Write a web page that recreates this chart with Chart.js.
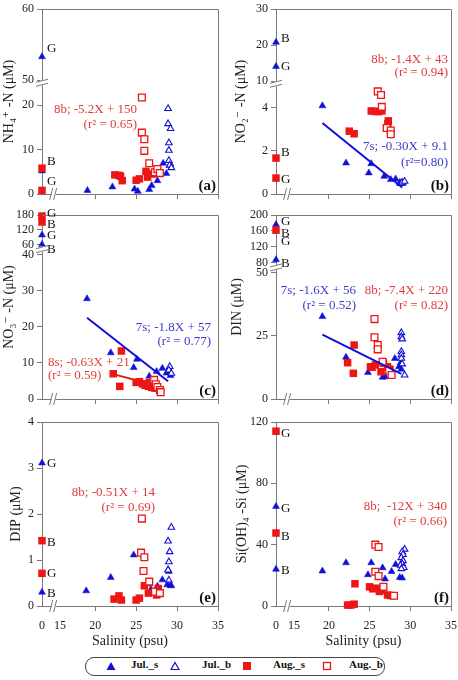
<!DOCTYPE html>
<html>
<head>
<meta charset="utf-8">
<script src="https://cdn.jsdelivr.net/npm/chart.js@4.4.1/dist/chart.umd.min.js"></script>
<style>
  body { margin: 0; width: 458px; height: 680px; position: relative; overflow: hidden; background: #fff; }
  #legend { position: absolute; left: 85px; top: 657px; width: 300px; height: 19px; border: 1px solid #444; border-radius: 9px; box-sizing: border-box; }
  .lg { position: absolute; top: 0; height: 17px; line-height: 17px; font: bold 11px 'Liberation Serif', serif; color: #111; }
  .mk { position: absolute; top: 3px; }
  .xt { position: absolute; font: 12px 'Liberation Serif', serif; color: #222; line-height: 14px; transform: translateX(-50%); z-index: 3; }
</style>
</head>
<body>
<div id="legend">
  <svg class="mk" style="left:20px" width="10" height="10"><polygon points="5,1 9.5,9 0.5,9" fill="#1010d8"/></svg>
  <span class="lg" style="left:45px">Jul._s</span>
  <svg class="mk" style="left:84px" width="10" height="10"><polygon points="5,1.5 9,8.5 1,8.5" fill="#fff" stroke="#1010d8" stroke-width="1.2"/></svg>
  <span class="lg" style="left:116px">Jul._b</span>
  <svg class="mk" style="left:156px" width="10" height="10"><rect x="1" y="1" width="8" height="8" fill="#ee1515"/></svg>
  <span class="lg" style="left:187px">Aug._s</span>
  <svg class="mk" style="left:236px" width="10" height="10"><rect x="1.5" y="1.5" width="7" height="7" fill="#fff" stroke="#ee1515" stroke-width="1.3"/></svg>
  <span class="lg" style="left:263px">Aug._b</span>
</div>
<script>
// salinity (psu), concentration (uM); salinity 0 = freshwater end members
// (a) NH4
const nh4JulS = [[0,53.3],[0,5.2],[19.05,0.8],[22.1,1.6],[24.8,1.1],[25.2,0.6],[26.6,1.0],[26.9,1.9],[27.6,3.0],[28.3,6.9],[28.7,4.6],[29.1,6.4],[29.2,6.7]];
const nh4JulB = [[28.9,19.2],[28.9,15.8],[29.2,14.7],[29.0,11.5],[29.0,9.8],[29.0,7.5],[29.1,6.5],[29.3,5.9]];
const nh4AugS = [[0,5.8],[0,0.8],[22.4,4.3],[22.9,4.2],[23.1,4.0],[23.3,3.0],[25.0,3.1],[25.4,3.4],[26.2,5.1],[26.4,3.8],[27.0,4.5],[27.4,4.9]];
const nh4AugB = [[25.7,21.7],[25.7,13.8],[26.0,12.3],[26.0,9.7],[26.6,6.9],[27.3,4.9],[27.6,5.6],[27.9,4.7]];
// (b) NO2
const no2JulS = [[0,20.8],[0,14.1],[19.2,4.1],[22.1,1.44],[24.9,0.98],[25.2,1.41],[26.8,0.82],[27.6,0.67],[28.2,0.70],[28.7,0.54],[28.9,0.5],[29.1,0.5]];
const no2JulB = [[28.8,0.48],[29.0,0.54],[29.3,0.59]];
const no2AugS = [[0,1.67],[0,0.74],[22.5,2.92],[23.1,2.8],[25.2,3.86],[25.6,3.84],[26.1,3.83],[26.5,3.86],[27.3,3.4],[27.25,3.27],[27.1,3.08]];
const no2AugB = [[26.0,4.77],[26.4,4.6],[26.5,4.05],[27.1,3.07],[27.6,2.95],[27.6,2.78]];
const no2Fit7s = [[19.2,3.3],[29.0,0.3]];
// (c) NO3
const no3JulS = [[0,100],[0,62],[19.0,27.8],[21.9,12.8],[24.7,8.7],[25.1,11.0],[26.6,6.3],[27.5,7.6],[28.2,8.5],[28.7,7.2],[28.9,7.6],[29.2,6.5]];
const no3JulB = [[29.1,9.0],[29.0,8.0],[29.3,7.1]];
const no3AugS = [[0,176],[0,152],[22.2,7.0],[23.0,3.5],[23.2,13.3],[25.0,4.6],[25.4,4.8],[25.8,4.2],[26.1,3.8],[26.5,3.5],[26.6,4.5],[26.9,3.2],[27.3,3.0]];
const no3AugB = [[27.2,5.3],[27.4,4.1],[27.6,3.3],[27.9,2.5],[28.0,1.9]];
const no3Fit7s = [[19.0,22.5],[28.9,4.9]];
const no3Fit8s = [[22.2,6.9],[27.0,4.0]];
// (d) DIN
const dinJulS = [[0,176],[0,88],[19.2,32.7],[22.1,16.6],[24.8,10.5],[26.6,8.6],[26.9,8.8],[28.1,16.1],[28.6,12.8],[28.8,14.3],[28.9,11.8]];
const dinJulB = [[28.9,26.3],[28.9,24.7],[29.0,23.8],[28.9,18.8],[28.9,17.5],[28.9,16.1],[29.0,13.9],[29.3,9.5]];
const dinAugS = [[0,162],[22.3,14.4],[23.1,21.4],[23.0,10.2],[25.1,12.8],[25.3,12.6],[25.7,13.5],[26.4,10.8],[26.7,14.2],[27.2,12.8],[27.5,11.8]];
const dinAugB = [[25.6,31.7],[25.6,24.5],[26.0,21.4],[26.0,19.7],[26.6,14.8],[27.4,11.2],[27.7,9.5]];
const dinFit7s = [[19.2,25.5],[28.9,10.0]];
// (e) DIP
const dipJulS = [[0,3.11],[0,0.30],[18.9,0.33],[21.9,0.62],[24.7,1.11],[26.8,0.36],[27.6,0.43],[28.2,0.57],[28.8,0.46],[28.9,0.79],[29.0,0.75],[29.2,0.45],[29.3,0.44]];
const dipJulB = [[29.3,1.71],[28.9,1.41],[29.1,1.18],[29.0,0.96],[28.9,0.78],[29.0,0.56]];
const dipAugS = [[0,1.42],[0,0.71],[22.3,0.15],[22.9,0.22],[23.2,0.13],[25.0,0.13],[25.4,0.17],[26.0,0.44],[26.5,0.28],[26.6,0.51],[27.3,0.31],[27.5,0.24],[27.7,0.38]];
const dipAugB = [[25.7,1.90],[25.6,1.16],[26.0,1.06],[25.9,0.76],[26.6,0.53],[27.3,0.31],[27.9,0.28]];
// (f) Si(OH)4
const siJulS = [[0,64.9],[0,24.0],[19.2,22.8],[22.1,28.2],[24.8,20.4],[25.2,28.2],[26.6,24.9],[26.9,17.6],[27.7,22.5],[28.2,27.1],[28.7,18.6],[29.0,18.3]];
const siJulB = [[29.3,37.0],[29.0,35.3],[29.1,33.5],[28.9,31.5],[29.1,29.5],[29.0,27.5],[28.8,26.5],[29.2,25.0],[28.9,24.3]];
const siAugS = [[0,114],[0,47.6],[22.3,0.6],[22.7,0.6],[23.1,1.2],[23.2,14.5],[25.0,12.5],[25.4,11.2],[25.8,11.6],[26.2,9.5],[26.5,10.3],[27.2,7.2],[27.6,6.8]];
const siAugB = [[25.7,40.0],[26.1,38.5],[25.7,22.3],[26.1,19.5],[26.7,12.5],[28.0,6.7]];

// station labels next to the freshwater points
const nh4Sites = [['G',54.5],['B',7.3],['G',2.8]];
const no2Sites = [['B',21.7],['G',14.1],['B',1.93],['G',0.66]];
const no3Sites = [['G',187],['B',140],['G',99],['B',50]];
const dinSites = [['G',184],['B',153],['G',133],['B',78]];
const dipSites = [['G',3.09],['B',1.38],['G',0.70],['B',0.26]];
const siSites = [['G',112.4],['G',63.7],['B',45.4],['B',23.3]];

// y tick labels (broken axes)
const nh4Ticks = [0,10,20,50,60];
const no2Ticks = [0,2,4,10,20,30];
const no3Ticks = [0,10,20,30,40,60,120,180];
const dinTicks = [0,25,50,80,120,160,200];
const dipTicks = [0,1,2,3,4];
const siTicks = [0,40,80,120];
const salTicks = [0,15,20,25,30,35];

const FONT = "'Liberation Serif', 'DejaVu Serif', serif";
const BLUE = '#1010d8', RED = '#ee1515';
const TXT_BLUE = '#3c3cc8', TXT_RED = '#e03c3c';
const AXIS = '#7a7a7a';
const X_LEFT = 13.5;   // where salinity 0 sits on the broken x axis
const TICK_LEN = 5;

function knotsFn(real, disp) {
    return v => {
        for (let i = 1; i < real.length; i++) {
            if (v <= real[i] || i === real.length - 1) {
                const t = (v - real[i - 1]) / (real[i] - real[i - 1]);
                return disp[i - 1] + t * (disp[i] - disp[i - 1]);
            }
        }
    };
}

// broken salinity axis: 0 | 15 ... 35
const xd = knotsFn([0, 15, 18, 35], [X_LEFT, 15.7, 18, 35]);

const panels = [
    { tag:'(a)', box:[0,0,228,205], plot:[42,9,218,194], title:'NH₄⁺ -N (μM)', tpad:1,
      knots:[[0,23,50,60],[0,23,25.6,41.6]], yTicks:nh4Ticks, yBreak:24.9, showX:false,
      series:[nh4JulS,nh4JulB,nh4AugS,nh4AugB], fits:[], sites:nh4Sites,
      notes:[['8b; -5.2X + 150',TXT_RED,0.54,0.546,'right'],['(r² = 0.65)',TXT_RED,0.54,0.627,'right']] },
    { tag:'(b)', box:[228,0,230,205], plot:[276,9,451,194], title:'NO₂⁻ -N (μM)', tpad:5,
      knots:[[0,5,10,30],[0,5,5.24,8.6]], yTicks:no2Ticks, yBreak:5.1, showX:false,
      series:[no2JulS,no2JulB,no2AugS,no2AugB], fits:[[no2Fit7s,BLUE]], sites:no2Sites,
      notes:[['8b; -1.4X + 43',TXT_RED,0.983,0.276,'right'],['(r² = 0.94)',TXT_RED,0.983,0.346,'right'],
             ['7s; -0.30X + 9.1',TXT_BLUE,0.983,0.746,'right'],['(r²=0.80)',TXT_BLUE,0.983,0.832,'right']] },
    { tag:'(c)', box:[0,205,228,205], plot:[42,215,218,399], title:'NO₃⁻ -N (μM)', tpad:1,
      knots:[[0,40,60,180],[0,40,42.7,51]], yTicks:no3Ticks, yBreak:41.4, showX:false,
      series:[no3JulS,no3JulB,no3AugS,no3AugB], fits:[[no3Fit7s,BLUE],[no3Fit8s,RED]], sites:no3Sites,
      notes:[['7s; -1.8X + 57',TXT_BLUE,0.96,0.614,'right'],['(r² = 0.77)',TXT_BLUE,0.96,0.69,'right'],
             ['8s; -0.63X + 21',TXT_RED,0.034,0.804,'left'],['(r² = 0.59)',TXT_RED,0.034,0.875,'left']] },
    { tag:'(d)', box:[228,205,230,205], plot:[276,215,451,399], title:'DIN (μM)', tpad:1,
      knots:[[0,50,80,200],[0,50,54,73]], yTicks:dinTicks, yBreak:52, showX:false,
      series:[dinJulS,dinJulB,dinAugS,dinAugB], fits:[[dinFit7s,BLUE]], sites:dinSites,
      notes:[['7s; -1.6X + 56',TXT_BLUE,0.457,0.413,'right'],['(r² = 0.52)',TXT_BLUE,0.457,0.49,'right'],
             ['8b; -7.4X + 220',TXT_RED,0.983,0.413,'right'],['(r² = 0.82)',TXT_RED,0.983,0.49,'right']] },
    { tag:'(e)', box:[0,410,228,240], plot:[42,422,218,606], title:'DIP (μM)', tpad:8,
      knots:[[0,4],[0,4]], yTicks:dipTicks, yBreak:null, showX:true,
      series:[dipJulS,dipJulB,dipAugS,dipAugB], fits:[], sites:dipSites,
      notes:[['8b; -0.51X + 14',TXT_RED,0.642,0.384,'right'],['(r² = 0.69)',TXT_RED,0.642,0.467,'right']] },
    { tag:'(f)', box:[228,410,230,240], plot:[276,422,451,606], title:'Si(OH)₄ -Si (μM)', tpad:6,
      knots:[[0,120],[0,120]], yTicks:siTicks, yBreak:null, showX:true,
      series:[siJulS,siJulB,siAugS,siAugB], fits:[], sites:siSites,
      notes:[['8b;  -12X + 340',TXT_RED,0.977,0.46,'right'],['(r² = 0.66)',TXT_RED,0.977,0.54,'right']] }
];

function makePanel(p) {
    const [bx, by, bw, bh] = p.box;
    const [l, t, r, b] = p.plot;
    const cv = document.createElement('canvas');
    cv.width = bw; cv.height = bh;
    cv.style.cssText = `position:absolute;left:${bx}px;top:${by}px;width:${bw}px;height:${bh}px`;
    document.body.appendChild(cv);

    const yd = knotsFn(p.knots[0], p.knots[1]);
    const conv = arr => arr.map(([s, v]) => ({ x: xd(s), y: yd(v) }));
    const yMax = yd(p.yTicks[p.yTicks.length - 1]);

    const [julS, julB, augS, augB] = p.series;
    const datasets = [];
    p.fits.forEach(([pts, col]) => datasets.push({
        data: conv(pts), showLine: true, borderColor: col, borderWidth: 2, pointRadius: 0, clip: false
    }));
    datasets.push(
        { data: conv(augB), pointStyle: 'rect', pointRadius: 4.8, backgroundColor: '#fff', borderColor: RED, borderWidth: 1.3, clip: false },
        { data: conv(augS), pointStyle: 'rect', pointRadius: 5.3, backgroundColor: RED, borderColor: RED, borderWidth: 0, clip: false },
        { data: conv(julB), pointStyle: 'triangle', pointRadius: 3.8, backgroundColor: '#fff', borderColor: BLUE, borderWidth: 1.1, clip: false },
        { data: conv(julS), pointStyle: 'triangle', pointRadius: 4, backgroundColor: BLUE, borderColor: BLUE, borderWidth: 0.5, clip: false }
    );

    // frame, y tick labels, axis breaks, site letters, fit equations, panel tag
    const decor = {
        id: 'decor',
        afterDraw(chart) {
            const ctx = chart.ctx;
            const a = chart.chartArea;
            const ys = chart.scales.y, xs = chart.scales.x;
            ctx.save();
            ctx.strokeStyle = AXIS;
            ctx.lineWidth = 1;
            ctx.beginPath();
            ctx.moveTo(a.left, a.top + 0.5);
            ctx.lineTo(a.right + 0.5, a.top + 0.5);
            ctx.lineTo(a.right + 0.5, a.bottom);
            ctx.stroke();

            ctx.font = `12px ${FONT}`;
            ctx.fillStyle = '#222';
            ctx.textAlign = 'right';
            ctx.textBaseline = 'middle';
            ys.ticks.forEach((tk, i) => ctx.fillText(String(p.yTicks[i]), a.left - TICK_LEN - 3, ys.getPixelForTick(i)));

            if (p.yBreak !== null) {
                const y = ys.getPixelForValue(p.yBreak), x = a.left;
                ctx.fillStyle = '#fff';
                ctx.fillRect(x - 2, y - 3, 4, 5);
                ctx.beginPath();
                ctx.moveTo(x - 6, y - 1); ctx.lineTo(x + 6, y - 4);
                ctx.moveTo(x - 6, y + 3); ctx.lineTo(x + 6, y);
                ctx.stroke();
            }
            const xb = xs.getPixelForValue(14.8), yb = a.bottom;
            ctx.fillStyle = '#fff';
            ctx.fillRect(xb - 1, yb - 2, 4, 4);
            ctx.beginPath();
            ctx.moveTo(xb - 3, yb + 6); ctx.lineTo(xb, yb - 6);
            ctx.moveTo(xb + 1, yb + 6); ctx.lineTo(xb + 4, yb - 6);
            ctx.stroke();

            ctx.font = `13px ${FONT}`;
            ctx.fillStyle = '#111';
            ctx.textAlign = 'left';
            ctx.textBaseline = 'middle';
            p.sites.forEach(([txt, v]) => ctx.fillText(txt, a.left + 5, ys.getPixelForValue(yd(v))));

            const w = a.right - a.left, h = a.bottom - a.top;
            p.notes.forEach(([txt, col, fx, fy, al]) => {
                ctx.fillStyle = col;
                ctx.textAlign = al;
                ctx.fillText(txt, a.left + fx * w, a.top + fy * h);
            });

            ctx.font = `bold 15px ${FONT}`;
            ctx.fillStyle = '#111';
            ctx.textAlign = 'right';
            ctx.textBaseline = 'alphabetic';
            ctx.fillText(p.tag, a.right - 2, a.bottom - 4);
            ctx.restore();
        }
    };

    const chart = new Chart(cv, {
        type: 'scatter',
        data: { datasets },
        options: {
            responsive: false,
            animation: false,
            layout: { padding: { left: 0, top: t - by, right: bx + bw - r, bottom: 0 } },
            plugins: { legend: { display: false }, tooltip: { enabled: false } },
            scales: {
                x: {
                    type: 'linear', min: X_LEFT, max: 35,
                    afterFit: s => { s.height = by + bh - b; },
                    afterBuildTicks: s => { s.ticks = salTicks.map(v => ({ value: xd(v) })); },
                    ticks: { display: false },
                    grid: {
                        drawOnChartArea: false, tickLength: TICK_LEN,
                        color: c => (c.tick && c.tick.value < 16) ? 'rgba(0,0,0,0)' : AXIS
                    },
                    border: { color: AXIS },
                    title: {
                        display: p.showX, text: 'Salinity (psu)', color: '#222',
                        font: { family: FONT, size: 14 }, padding: { top: 0, bottom: 0 }
                    }
                },
                y: {
                    type: 'linear', min: 0, max: yMax,
                    afterFit: s => { s.width = l - bx; },
                    afterBuildTicks: s => { s.ticks = p.yTicks.map(v => ({ value: yd(v) })); },
                    ticks: { display: false },
                    grid: { drawOnChartArea: false, tickLength: TICK_LEN, color: AXIS },
                    border: { color: AXIS },
                    title: {
                        display: true, text: p.title, color: '#222',
                        font: { family: FONT, size: 14 }, padding: { top: p.tpad, bottom: 0 }
                    }
                }
            }
        },
        plugins: [decor]
    });

    // salinity tick labels as page text, placed at the x scale's tick pixels
    if (p.showX) {
        const xs = chart.scales.x;
        xs.ticks.forEach((tk, i) => {
            const sp = document.createElement('span');
            sp.className = 'xt';
            sp.textContent = String(salTicks[i]);
            sp.style.left = (bx + xs.getPixelForTick(i)) + 'px';
            sp.style.top = (by + chart.chartArea.bottom + TICK_LEN + 7) + 'px';
            document.body.appendChild(sp);
        });
    }
}

panels.forEach(makePanel);
</script>
</body>
</html>
